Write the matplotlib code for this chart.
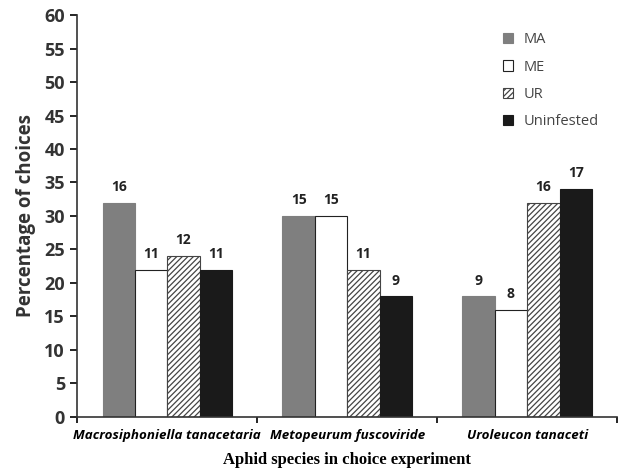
import matplotlib
matplotlib.use('Agg')
import matplotlib.pyplot as plt
import numpy as np

species = ['Macrosiphoniella tanacetaria', 'Metopeurum fuscoviride', 'Uroleucon tanaceti']
series = ['MA', 'ME', 'UR', 'Uninfested']
percent = [
    [32, 30, 18],   # MA
    [22, 30, 16],   # ME
    [24, 22, 32],   # UR
    [22, 18, 34],   # Uninfested
]
counts = [
    [16, 15, 9],
    [11, 15, 8],
    [12, 11, 16],
    [11, 9, 17],
]

plt.rcParams['font.family'] = ['Open Sans', 'DejaVu Sans']
plt.rcParams['hatch.color'] = '#444444'
plt.rcParams['hatch.linewidth'] = 0.9

styles = [
    dict(color='#7f7f7f', edgecolor='#7f7f7f'),
    dict(color='white', edgecolor='#222222'),
    dict(color='white', edgecolor='#444444', hatch='//////'),
    dict(color='#1a1a1a', edgecolor='#1a1a1a'),
]

fig = plt.figure(figsize=(6.19, 4.71), dpi=100)
ax = fig.add_axes([0.125, 0.115, 0.872, 0.853])

x = np.arange(len(species))
w = 0.18
for i, name in enumerate(series):
    pos = x + (i - 1.5) * w
    bars = ax.bar(pos, percent[i], w, label=name, linewidth=0.8, **styles[i])
    for b, c in zip(bars, counts[i]):
        ax.text(b.get_x() + b.get_width() / 2, b.get_height() + 1.3, str(c),
                ha='center', va='bottom', fontsize=10, fontweight='bold', color='#222222')

ax.set_xlim(-0.5, 2.5)
ax.set_ylim(0, 60)
ax.set_yticks(range(0, 61, 5))
ax.set_xticks([-0.5, 0.5, 1.5, 2.5])
ax.set_xticklabels([])
ax.set_xticks(x, minor=True)
ax.set_xticklabels(species, minor=True, fontstyle='italic', fontweight='bold', fontsize=9.6)
ax.tick_params(axis='x', which='minor', length=0, pad=9)
ax.tick_params(axis='x', which='major', length=4, direction='out', width=1.2)
ax.tick_params(axis='y', length=5, direction='out', width=1.2, labelsize=13, pad=4)
for lab in ax.get_yticklabels():
    lab.set_fontweight('bold')
    lab.set_color('#333333')
for s in ['top', 'right']:
    ax.spines[s].set_visible(False)
for s in ['left', 'bottom']:
    ax.spines[s].set_linewidth(1.2)
    ax.spines[s].set_color('#333333')

ax.set_ylabel('Percentage of choices', fontsize=13.5, fontweight='bold', color='#333333', labelpad=6)
ax.set_xlabel('Aphid species in choice experiment', fontsize=12, fontweight='bold',
              family='Liberation Serif', labelpad=7)

leg = ax.legend(loc='upper right', bbox_to_anchor=(0.99, 0.99), frameon=False, fontsize=10.5,
                handlelength=0.7, handleheight=0.7, labelspacing=0.85, handletextpad=0.7)
for t in leg.get_texts():
    t.set_color('#444444')

fig.savefig('out.png', dpi=100)
